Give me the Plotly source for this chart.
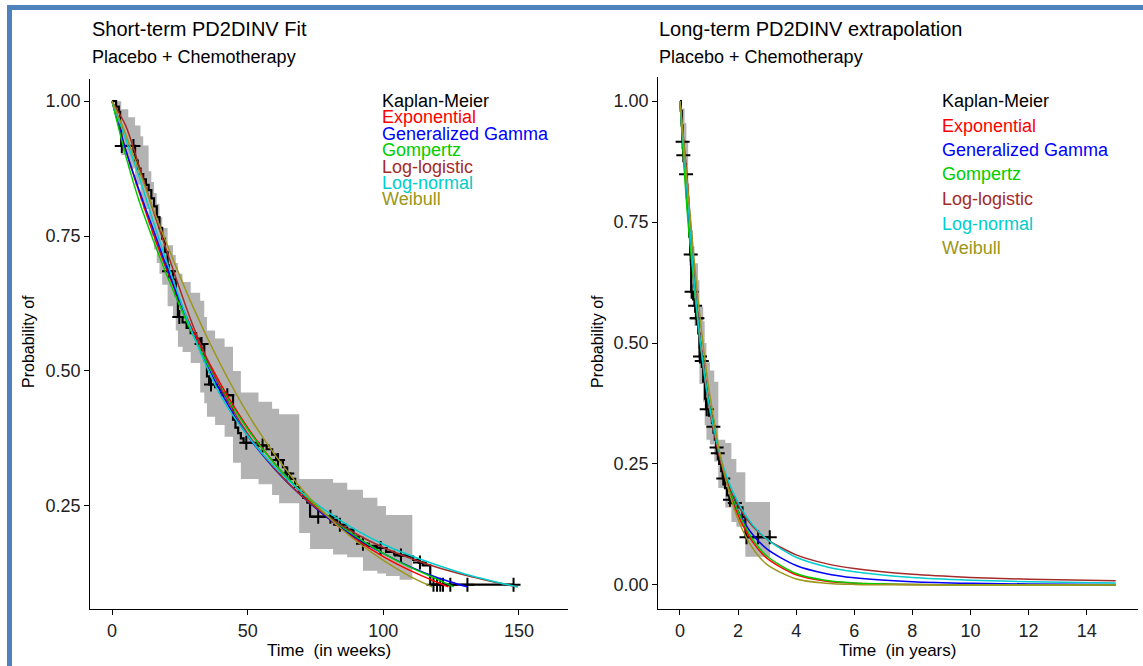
import numpy as np
import plotly.graph_objects as go

W, H = 1143, 666
FONT = "Liberation Sans, Arial, sans-serif"

# ---------------- Short-term panel (weeks) ----------------
km_wk = [(0, 1.0), (1.5, 0.99), (2.5, 0.98), (3.0, 0.95), (3.4, 0.917), (8.5, 0.89), (9.5, 0.875),
         (10.5, 0.865), (11.5, 0.855), (12.5, 0.845), (13.5, 0.835), (14.5, 0.82), (15.5, 0.805),
         (16.5, 0.785), (17.5, 0.765), (18.5, 0.745), (19.5, 0.72), (20.5, 0.685), (22.5, 0.67),
         (23.5, 0.64), (24.3, 0.60), (26, 0.59), (27.5, 0.58), (29, 0.57), (31, 0.56), (32.5, 0.55),
         (34, 0.52), (35, 0.49), (35.8, 0.475), (38, 0.47), (40, 0.46), (41.5, 0.455), (44.6, 0.41),
         (45.5, 0.395), (46.5, 0.385), (47.5, 0.375), (48.5, 0.367), (54, 0.362), (57, 0.355),
         (59, 0.345), (60.5, 0.335), (63, 0.322), (64, 0.31), (65.7, 0.30), (67.5, 0.285), (69, 0.275),
         (70.5, 0.265), (72, 0.256), (73, 0.23), (81.5, 0.224), (83, 0.215), (85, 0.21), (86.7, 0.206),
         (89, 0.193), (91, 0.185), (92, 0.18), (94, 0.176), (97.8, 0.172), (101, 0.165), (104, 0.16),
         (106, 0.158), (109, 0.156), (111, 0.15), (113, 0.145), (114.5, 0.14), (117.3, 0.104), (148, 0.104)]
censor_wk = [3.6, 7.9, 21, 24.8, 33, 36.5, 42.5, 49.5, 55.5, 61.2, 64.6, 76, 80.5, 84, 92.5, 99,
             106.5, 113.5, 118.5, 119.8, 121, 122, 124.7, 131, 148]
band_wk = [(0, 1.0, 1.0), (1.5, 0.975, 1.0), (3.4, 0.90, 0.985), (6, 0.875, 0.97), (8.5, 0.845, 0.955),
           (10.5, 0.815, 0.935), (11.5, 0.80, 0.918), (13.5, 0.77, 0.87), (14.5, 0.75, 0.85),
           (15.5, 0.725, 0.83), (16.5, 0.70, 0.81), (17.5, 0.68, 0.785), (18.5, 0.66, 0.765),
           (20.5, 0.62, 0.733), (22.5, 0.60, 0.715), (23.5, 0.575, 0.70), (24.3, 0.545, 0.68),
           (26, 0.535, 0.665), (29, 0.515, 0.645), (32.5, 0.46, 0.63), (34, 0.44, 0.60),
           (35, 0.415, 0.575), (38, 0.40, 0.56), (41.5, 0.378, 0.545), (44.6, 0.33, 0.50),
           (47.5, 0.30, 0.46), (54, 0.29, 0.443), (59, 0.27, 0.43), (61.6, 0.255, 0.42),
           (69, 0.20, 0.30), (73, 0.17, 0.30), (81.5, 0.16, 0.293), (86.7, 0.155, 0.28),
           (92.5, 0.13, 0.265), (97.8, 0.125, 0.25), (101, 0.12, 0.233), (106, 0.113, 0.233),
           (110.7, 0.11, 0.233)]

exp_wk = [(0, 1), (5, .911), (10, .831), (15, .757), (20, .690), (30, .573), (40, .476), (50, .395),
          (60, .328), (70, .273), (80, .226), (90, .188), (100, .156), (110, .130), (120, .108), (124, .100)]
gg_wk = [(0, 1), (5, .91), (10, .835), (15, .765), (20, .695), (30, .567), (40, .462), (50, .38),
         (60, .318), (70, .268), (80, .226), (90, .191), (100, .162), (110, .137), (120, .117), (131, .100)]
gomp_wk = [(0, 1), (5, .90), (10, .815), (15, .745), (20, .68), (30, .565), (40, .47), (50, .392),
           (60, .328), (70, .275), (80, .23), (90, .193), (100, .162), (110, .136), (120, .114), (126, .100)]
llog_wk = [(0, 1), (5, .955), (10, .88), (15, .80), (20, .725), (30, .582), (40, .469), (50, .384),
           (60, .319), (70, .268), (80, .229), (90, .198), (100, .173), (110, .153), (120, .136),
           (130, .122), (140, .110), (149.5, .100)]
lnorm_wk = [(0, 1), (5, .93), (10, .86), (15, .78), (20, .705), (30, .566), (40, .455), (50, .38),
            (60, .322), (70, .275), (80, .237), (90, .205), (100, .179), (110, .158), (120, .140),
            (130, .124), (140, .111), (149.5, .100)]
weib_wk = [(0, 1), (5, .939), (10, .871), (15, .803), (20, .738), (30, .617), (40, .512), (50, .421),
           (60, .345), (70, .281), (80, .228), (90, .185), (100, .149), (110, .119), (118, .100)]

# ---------------- Long-term panel (years) ----------------
km_yr = [(0, 1.0), (0.03, 0.98), (0.06, 0.95), (0.085, 0.916), (0.11, 0.888), (0.15, 0.87), (0.2, 0.849),
         (0.24, 0.80), (0.28, 0.76), (0.32, 0.72), (0.35, 0.683), (0.385, 0.606), (0.45, 0.59),
         (0.5, 0.577), (0.56, 0.551), (0.63, 0.52), (0.67, 0.49), (0.68, 0.472), (0.74, 0.463),
         (0.8, 0.42), (0.86, 0.385), (0.9, 0.363), (1.0, 0.35), (1.1, 0.335), (1.14, 0.327), (1.2, 0.30),
         (1.25, 0.284), (1.28, 0.272), (1.35, 0.25), (1.42, 0.235), (1.47, 0.22), (1.55, 0.20),
         (1.62, 0.185), (1.7, 0.176), (1.8, 0.169), (2.0, 0.16), (2.15, 0.14), (2.25, 0.0985), (3.1, 0.0985)]
censor_yr = [0.09, 0.115, 0.21, 0.37, 0.40, 0.52, 0.57, 0.60, 0.69, 0.75, 0.92, 1.15, 1.26, 1.30,
             1.49, 1.72, 1.89, 2.29, 2.69, 3.09]
band_yr = [(0, 1, 1), (0.03, 0.97, 1.0), (0.065, 0.89, 0.985), (0.16, 0.84, 0.955), (0.22, 0.80, 0.918),
           (0.28, 0.72, 0.83), (0.32, 0.66, 0.765), (0.39, 0.62, 0.733), (0.45, 0.575, 0.70),
           (0.5, 0.535, 0.665), (0.62, 0.46, 0.63), (0.67, 0.415, 0.575), (0.8, 0.378, 0.545),
           (0.85, 0.33, 0.50), (0.91, 0.30, 0.46), (1.03, 0.29, 0.443), (1.18, 0.255, 0.42),
           (1.32, 0.20, 0.30), (1.56, 0.16, 0.293), (1.77, 0.13, 0.26), (1.94, 0.12, 0.233),
           (2.25, 0.058, 0.171), (3.1, 0.058, 0.171)]

years = [0, 0.25, 0.5, 0.75, 1, 1.5, 2, 2.5, 3, 4, 5, 6, 8, 10, 12, 15]
exp_yr = [1, .785, .616, .484, .379, .234, .144, .0887, .0546, .0207, .0079, .0030, .0004, .0001, 0, 0]
gg_yr = [1, .79, .615, .478, .374, .238, .153, .104, .074, .040, .0235, .0145, .0065, .0032, .0017, .0008]
gomp_yr = [1, .77, .61, .475, .375, .238, .152, .094, .059, .0235, .0095, .0040, .0008, .0002, 0, 0]
llog_yr = [1, .838, .634, .478, .368, .235, .164, .121, .094, .062, .0443, .0336, .0216, .0153, .0116, .0082]
lnorm_yr = [1, .81, .62, .478, .373, .243, .170, .124, .094, .057, .038, .027, .015, .0095, .0065, .0040]
weib_yr = [1, .830, .662, .520, .403, .237, .135, .0758, .0418, .0122, .0034, .0009, 0, 0, 0, 0]

models = ["Exponential", "Generalized Gamma", "Gompertz", "Log-logistic", "Log-normal", "Weibull"]
colors = ["#FF0000", "#0000FF", "#00CD00", "#A52A2A", "#00CDCD", "#9C961A"]
fits_wk = [exp_wk, gg_wk, gomp_wk, llog_wk, lnorm_wk, weib_wk]
fits_yr = [exp_yr, gg_yr, gomp_yr, llog_yr, lnorm_yr, weib_yr]

titles = ["Short-term PD2DINV Fit", "Long-term PD2DINV extrapolation"]
subtitle = "Placebo + Chemotherapy"
xtitles = ["Time \u00a0(in weeks)", "Time \u00a0(in years)"]
ytitle = "Probability of"


def px(x):
    return x / W


def py(y):
    return 1 - y / H


def step_value(steps, t):
    ts = [p[0] for p in steps]
    i = int(np.searchsorted(ts, t, side="right")) - 1
    return steps[max(i, 0)][1]


fig = go.Figure()

panels = [
    dict(xa="x", ya="y", km=km_wk, cens=censor_wk, band=band_wk,
         fits=[(list(zip(*f))[0], list(zip(*f))[1]) for f in fits_wk]),
    dict(xa="x2", ya="y2", km=km_yr, cens=censor_yr, band=band_yr,
         fits=[(years, f) for f in fits_yr]),
]

for p in panels:
    bt = [b[0] for b in p["band"]]
    blo = [b[1] for b in p["band"]]
    bhi = [b[2] for b in p["band"]]
    fig.add_trace(go.Scatter(x=bt, y=blo, mode="lines", line=dict(width=0, shape="hv"),
                             xaxis=p["xa"], yaxis=p["ya"], showlegend=False, hoverinfo="skip"))
    fig.add_trace(go.Scatter(x=bt, y=bhi, mode="lines", line=dict(width=0, shape="hv"),
                             fill="tonexty", fillcolor="#B3B3B3",
                             xaxis=p["xa"], yaxis=p["ya"], showlegend=False, hoverinfo="skip"))
    fig.add_trace(go.Scatter(x=[k[0] for k in p["km"]], y=[k[1] for k in p["km"]], mode="lines",
                             line=dict(color="black", width=2.2, shape="hv"),
                             xaxis=p["xa"], yaxis=p["ya"], showlegend=False))
    fig.add_trace(go.Scatter(x=p["cens"], y=[step_value(p["km"], t) for t in p["cens"]],
                             mode="markers",
                             marker=dict(symbol="cross-thin", size=10, line=dict(color="black", width=2)),
                             xaxis=p["xa"], yaxis=p["ya"], showlegend=False))
    for (fx, fy), col in zip(p["fits"], colors):
        fig.add_trace(go.Scatter(x=list(fx), y=list(fy), mode="lines",
                                 line=dict(color=col, width=1.5, shape="spline", smoothing=0.8),
                                 xaxis=p["xa"], yaxis=p["ya"], showlegend=False))

axis_common = dict(showline=True, linecolor="black", linewidth=1.2, ticks="outside", ticklen=5,
                   tickwidth=1.2, tickcolor="black", showgrid=False, zeroline=False,
                   tickfont=dict(family=FONT, size=18, color="#222222"))

fig.update_layout(
    width=W, height=H, margin=dict(l=0, r=0, t=0, b=0, pad=0),
    paper_bgcolor="white", plot_bgcolor="white", showlegend=False,
    font=dict(family=FONT, color="black"),
    xaxis=dict(domain=[px(90.3), px(567.8)], range=[-8, 168], tickvals=[0, 50, 100, 150],
               anchor="y", **axis_common),
    yaxis=dict(domain=[py(609), py(79)], range=[0.059, 1.041], tickvals=[0.25, 0.5, 0.75, 1.0],
               ticktext=["0.25", "0.50", "0.75", "1.00"], anchor="x", **axis_common),
    xaxis2=dict(domain=[px(658.2), px(1137.5)], range=[-0.75, 15.75], tickvals=list(range(0, 15, 2)),
                anchor="y2", **axis_common),
    yaxis2=dict(domain=[py(609), py(77)], range=[-0.05, 1.05], tickvals=[0, 0.25, 0.5, 0.75, 1.0],
                ticktext=["0.00", "0.25", "0.50", "0.75", "1.00"], anchor="x2", **axis_common),
)

ann = []
for i, x0 in enumerate([90, 657]):
    ann.append(dict(x=px(x0), y=py(29), text=titles[i], font=dict(size=20)))
    ann.append(dict(x=px(x0), y=py(57), text=subtitle, font=dict(size=18)))
ann.append(dict(x=px(329), y=py(650), text=xtitles[0], xanchor="center", font=dict(size=17)))
ann.append(dict(x=px(897.5), y=py(650), text=xtitles[1], xanchor="center", font=dict(size=17)))
for xc in [28, 597]:
    ann.append(dict(x=px(xc), y=py(342), text=ytitle, textangle=-90, xanchor="center",
                    font=dict(size=16)))
leg_names = ["Kaplan-Meier"] + models
leg_cols = ["black"] + colors
for (lx, ly0, dy) in [(380, 101, 16.4), (940, 101, 24.5)]:
    for j, (nm, c) in enumerate(zip(leg_names, leg_cols)):
        ann.append(dict(x=px(lx), y=py(ly0 + j * dy), text=nm, font=dict(size=18, color=c)))

for a in ann:
    a.setdefault("xanchor", "left")
    a.update(xref="paper", yref="paper", yanchor="middle", showarrow=False)
    a["font"].setdefault("color", "black")
    a["font"]["family"] = FONT
fig.update_layout(annotations=ann)

fig.add_shape(type="rect", xref="paper", yref="paper", x0=px(9.5), x1=px(1200), y0=py(720), y1=py(7.5),
              line=dict(color="#4F81BD", width=5), fillcolor="rgba(0,0,0,0)", layer="above")

fig.write_html("out.html", config={"displayModeBar": False},
               post_script="document.body.style.margin='0px';document.body.style.overflow='hidden';")
